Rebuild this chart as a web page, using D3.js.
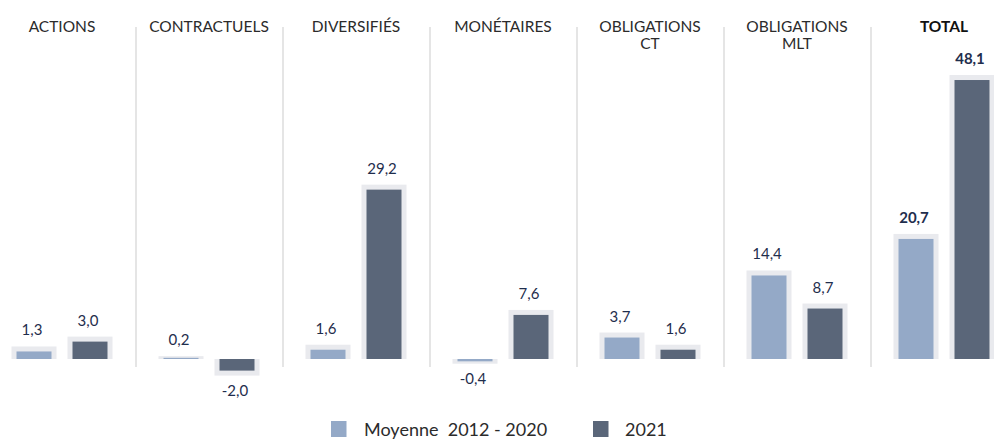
<!DOCTYPE html>
<html>
<head>
<meta charset="utf-8">
<script src="https://cdn.jsdelivr.net/npm/d3@7"></script>
<style>
  html, body { margin: 0; padding: 0; background: #fff; }
  svg { display: block; font-family: Lato, "Open Sans", sans-serif; }
</style>
</head>
<body>
<svg id="chart" width="994" height="439"></svg>
<script>
// ---- Data ----
const categories = ["ACTIONS", "CONTRACTUELS", "DIVERSIFIÉS", "MONÉTAIRES", "OBLIGATIONS\nCT", "OBLIGATIONS\nMLT", "TOTAL"];
const seriesNames = ["Moyenne  2012 - 2020", "2021"];
const moyenne = [1.3, 0.2, 1.6, -0.4, 3.7, 14.4, 20.7];
const an2021 = [3.0, -2.0, 29.2, 7.6, 1.6, 8.7, 48.1];
const highlight = ["TOTAL"];

const colors = ["#94a9c7", "#5a6679"];
const haloColor = "#e9eaee";

const W = 994, H = 439;
const svg = d3.select("#chart");

const x0 = d3.scaleBand().domain(categories).range([-11.5, 1017.5]).paddingInner(0).paddingOuter(0);
const x1 = d3.scaleBand().domain(seriesNames).range([x0.bandwidth() / 2 - 45.5, x0.bandwidth() / 2 + 45.5]).paddingInner(0.375).paddingOuter(0);
const y = d3.scaleLinear().domain([0, 50]).range([359, 69]);

const fmt = v => d3.format(".1f")(v).replace(".", ",").replace("−", "-");

// separators
svg.append("g").selectAll("line")
  .data(categories.slice(1))
  .join("line")
  .attr("x1", d => x0(d) + 0.5).attr("x2", d => x0(d) + 0.5)
  .attr("y1", 27).attr("y2", 367)
  .attr("stroke", "#dcdcdc").attr("stroke-width", 1.5);

// headers (each line as its own text element)
const hdrLines = [];
categories.forEach(c => c.split("\n").forEach((l, i) => hdrLines.push({ cat: c, line: l, i })));
svg.append("g").selectAll("text")
  .data(hdrLines)
  .join("text")
  .attr("x", d => x0(d.cat) + x0.bandwidth() / 2)
  .attr("y", d => 31.5 + d.i * 17)
  .attr("text-anchor", "middle")
  .attr("font-size", 15.5)
  .attr("fill", d => highlight.includes(d.cat) ? "#111" : "#2b2b2b")
  .attr("font-weight", d => highlight.includes(d.cat) ? 700 : 400)
  .text(d => d.line);

// bars
const rows = categories.map((c, i) => ({ cat: c, vals: [moyenne[i], an2021[i]] }));
const groups = svg.append("g").selectAll("g")
  .data(rows)
  .join("g")
  .attr("transform", d => `translate(${x0(d.cat)},0)`);

const items = groups.selectAll("g")
  .data(d => d.vals.map((v, j) => ({ cat: d.cat, series: seriesNames[j], j, v })))
  .join("g");

const pad = 5;
const padFor = d => Math.min(pad, 1 + Math.abs(y(d.v) - y(0)) * 0.6);
items.append("rect")
  .attr("x", d => x1(d.series) - pad)
  .attr("width", x1.bandwidth() + 2 * pad)
  .attr("y", d => d.v >= 0 ? y(d.v) - padFor(d) : y(0))
  .attr("height", d => Math.abs(y(d.v) - y(0)) + padFor(d))
  .attr("fill", haloColor);

items.append("rect")
  .attr("x", d => x1(d.series))
  .attr("width", x1.bandwidth())
  .attr("y", d => Math.min(y(d.v), y(0)))
  .attr("height", d => Math.abs(y(d.v) - y(0)))
  .attr("fill", d => colors[d.j]);

items.append("text")
  .attr("x", d => x1(d.series) + x1.bandwidth() / 2 - 2)
  .attr("y", d => d.v >= 0 ? y(d.v) - padFor(d) - 11 : y(d.v) + padFor(d) + 20)
  .attr("text-anchor", "middle")
  .attr("font-size", 15)
  .attr("fill", "#1f2e4d")
  .attr("font-weight", d => highlight.includes(d.cat) ? 700 : 400)
  .text(d => fmt(d.v));

// legend
const legendX = [331, 593];
const lg = svg.append("g").selectAll("g")
  .data(seriesNames)
  .join("g")
  .attr("transform", (d, i) => `translate(${legendX[i]},421)`);
lg.append("rect").attr("width", 15.5).attr("height", 16).attr("fill", (d, i) => colors[i]);
lg.append("text")
  .attr("x", (d, i) => i === 0 ? 33 : 32)
  .attr("y", 15)
  .attr("font-size", 18)
  .attr("fill", "#2b2b2b")
  .attr("xml:space", "preserve")
  .style("white-space", "pre")
  .text(d => d);
</script>
</body>
</html>
